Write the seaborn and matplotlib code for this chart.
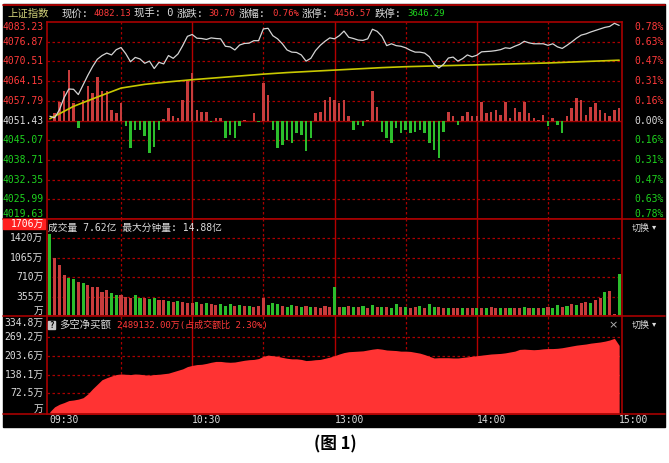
import matplotlib
matplotlib.use("Agg")
import matplotlib.pyplot as plt
from matplotlib.patches import Rectangle
import seaborn as sns

# minute index: 0 = 09:30, 120 = 11:30/13:00, 240 = 15:00 (sampled every 2 min)
minutes = list(range(0, 241, 2))

price = [4052.8, 4052.3, 4054.8, 4058.8, 4061.6, 4061.5, 4059.8, 4062.9, 4066.0, 4068.8,
         4071.2, 4072.4, 4073.2, 4072.6, 4074.3, 4075.0, 4073.0, 4070.4, 4071.8, 4071.3,
         4069.9, 4070.6, 4068.2, 4070.2, 4069.7, 4072.4, 4071.5, 4072.9, 4075.6, 4078.6,
         4079.2, 4078.0, 4077.9, 4077.6, 4078.1, 4077.9, 4077.8, 4075.4, 4075.2, 4074.2,
         4075.8, 4076.3, 4076.4, 4077.2, 4077.2, 4081.0, 4081.2, 4078.8, 4077.8, 4076.2,
         4074.2, 4073.5, 4073.4, 4072.6, 4070.6, 4071.5, 4074.0, 4075.7, 4077.0, 4078.1,
         4077.8, 4078.8, 4080.3, 4078.3, 4077.9, 4077.4, 4077.3, 4077.8, 4080.9, 4080.2,
         4078.6, 4075.6, 4076.2, 4075.6, 4075.4, 4074.9, 4074.1, 4073.5, 4073.5, 4073.2,
         4072.0, 4069.6, 4068.4, 4069.6, 4071.6, 4071.9, 4070.6, 4071.4, 4072.6, 4072.0,
         4072.5, 4073.6, 4073.7, 4073.8, 4074.0, 4074.3, 4074.9, 4074.7, 4075.4, 4076.0,
         4077.0, 4076.5, 4076.2, 4076.2, 4076.2, 4075.7, 4076.2, 4075.2, 4074.7, 4075.7,
         4076.8, 4078.0, 4079.0, 4079.4, 4080.0, 4080.5, 4081.0, 4081.5, 4081.8, 4082.8,
         4082.13]

avg_minutes = list(range(0, 241, 10))
avg_price = [4052.0, 4056.0, 4059.0, 4061.9, 4063.1, 4063.9, 4064.6, 4065.2, 4065.8, 4066.4,
             4066.9, 4067.3, 4067.7, 4068.1, 4068.5, 4068.8, 4069.0, 4069.2, 4069.4, 4069.6,
             4069.8, 4070.0, 4070.3, 4070.6, 4070.9]

# red/green breadth bars, in index points around the previous close
breadth = [0.0, 2.4, 6.1, 9.4, 16.4, 5.6, -2.4, 6.7, 11.0, 8.8,
           14.2, 9.4, 9.4, 3.4, 2.4, 5.6, -1.9, -8.9, -3.0, -3.0,
           -5.0, -10.5, -8.4, -3.0, 0.5, 4.0, 1.3, 0.8, 6.7, 12.6,
           15.3, 3.4, 2.9, 2.9, -0.5, 0.8, 0.8, -5.7, -4.6, -5.7,
           -1.9, 0.3, 0.0, 2.4, -0.4, 12.0, 8.3, -3.0, -8.9, -7.9,
           -6.2, -7.3, -4.1, -4.6, -10.0, -5.7, 2.4, 2.9, 6.7, 7.7,
           6.7, 5.5, 6.7, 1.3, -3.0, -1.4, -1.9, 0.3, 9.4, 4.5,
           -3.6, -5.7, -7.3, -2.5, -4.1, -3.0, -4.1, -3.6, -3.0, -4.1,
           -7.3, -9.5, -12.0, -3.6, 2.9, 1.3, -1.4, 1.3, 2.9, 1.3,
           1.3, 6.1, 2.4, 2.9, 3.4, 1.8, 6.1, 0.8, 4.0, 2.9,
           6.1, 2.4, 0.8, 0.3, 1.8, -1.9, 0.8, -1.4, -4.1, 1.3,
           4.0, 7.2, 6.7, 1.8, 4.5, 5.6, 3.4, 2.4, 1.3, 3.4,
           4.0]

# volume in 万 and direction of each bar (r = up, g = down)
volume = [1490, 1050, 930, 750, 690, 680, 620, 600, 560, 530,
          520, 440, 470, 420, 380, 380, 350, 330, 380, 330,
          320, 310, 320, 300, 290, 280, 260, 270, 250, 240,
          230, 260, 220, 230, 210, 200, 220, 190, 210, 190,
          200, 180, 190, 170, 180, 330, 200, 230, 210, 190,
          170, 200, 180, 170, 190, 160, 170, 150, 180, 160,
          520, 170, 160, 180, 170, 160, 180, 150, 200, 170,
          160, 170, 150, 210, 160, 170, 150, 160, 180, 150,
          210, 170, 160, 150, 140, 150, 140, 150, 140, 150,
          140, 150, 140, 160, 140, 150, 140, 150, 140, 150,
          160, 140, 150, 140, 150, 160, 150, 200, 170, 190,
          210, 200, 230, 250, 240, 300, 320, 430, 455, 30,
          760]
vol_dir = ("grrrggrgrr" "rrrggrrrgg" "rggrrgrgrr" "rgrgrrgggr" "grgrrrgggr" "ggrgrgrrrr"
           "grgrgrgrgr" "grggrgrrgr" "ggrrgrrgrr" "grgrrgrgrr" "grgrgrggrg" "rgrrgrrgrr" "g")

# net long/short buying, 万
money = [8, 25, 34, 40, 47, 49, 52, 57, 70, 88,
         104, 120, 127, 133, 138, 140, 139, 138, 140, 139,
         137, 136, 138, 139, 141, 143, 148, 153, 158, 166,
         170, 173, 174, 177, 181, 184, 184, 182, 181, 182,
         185, 188, 190, 191, 194, 202, 206, 204, 202, 198,
         195, 193, 193, 191, 187, 188, 190, 191, 195, 199,
         204, 210, 215, 218, 219, 220, 221, 224, 227, 229,
         227, 224, 223, 222, 220, 220, 219, 216, 213, 208,
         202, 196, 197, 197, 197, 196, 196, 198, 200, 202,
         204, 206, 208, 210, 211, 212, 214, 217, 220, 226,
         227, 226, 225, 226, 228, 229, 229, 230, 232, 235,
         238, 241, 243, 245, 248, 250, 252, 255, 259, 265,
         240]

pre_close = 4051.43
price_ticks = [4083.23, 4076.87, 4070.51, 4064.15, 4057.79, 4051.43,
               4045.07, 4038.71, 4032.35, 4025.99, 4019.63]
pct_labels = ["0.78%", "0.63%", "0.47%", "0.31%", "0.16%", "0.00%",
              "0.16%", "0.31%", "0.47%", "0.63%", "0.78%"]
vol_ticks = [1420, 1065, 710, 355, 0]
vol_labels = ["1420万", "1065万", "710万", "355万", "万"]
money_ticks = [334.8, 269.2, 203.6, 138.1, 72.5, 0]
money_labels = ["334.8万", "269.2万", "203.6万", "138.1万", "72.5万", "万"]
time_ticks = [0, 60, 120, 180, 240]
time_labels = ["09:30", "10:30", "13:00", "14:00", "15:00"]

RED = "#ff3a3a"
GREEN = "#1ed21e"
WHITE = "#dcdcdc"
FRAME = "#a80000"
BAR_RED = "#c83c3c"
BAR_GREEN = "#2cbe2c"
XLIM = (-1.2, 241.2)

sns.set_style("dark")
plt.rcParams["font.family"] = ["DejaVu Sans Mono", "Noto Sans CJK SC"]
plt.rcParams["font.size"] = 7

W, H = 669, 463
fig = plt.figure(figsize=(W / 100, H / 100), dpi=100, facecolor="white")


def frac(x0, y0, x1, y1):
    return [x0 / W, 1 - y1 / H, (x1 - x0) / W, (y1 - y0) / H]


def pixel_axes(z):
    a = fig.add_axes([0, 0, 1, 1], zorder=z)
    a.set_xlim(0, W)
    a.set_ylim(H, 0)
    a.axis("off")
    a.patch.set_alpha(0)
    return a


bg = pixel_axes(-1)
bg.add_patch(Rectangle((3, 4), 662, 423, color="black", zorder=0))
bg.plot([3, 665], [4.5, 4.5], color="#c00000", lw=1.2)
for yy in (219, 316, 414):
    bg.plot([3, 665], [yy, yy], color=FRAME, lw=1.2)


def panel(rect, ylim, hlevels):
    ax = fig.add_axes(rect)
    ax.set_facecolor("black")
    ax.set_xlim(*XLIM)
    ax.set_ylim(*ylim)
    ax.set_xticks([])
    ax.set_yticks([])
    ax.grid(False)
    for s in ax.spines.values():
        s.set_color(FRAME)
        s.set_linewidth(1.2)
    for v in hlevels:
        ax.axhline(v, color=FRAME, lw=0.9, ls=(0, (2, 2)), zorder=1)
    for m in (30, 90, 150, 210):
        ax.axvline(m, color=FRAME, lw=0.9, ls=(0, (2, 2)), zorder=1)
    for m in (60, 120, 180):
        ax.axvline(m, color="#b40000", lw=1.0, zorder=1)
    return ax


# price panel
ax_p = panel(frac(47, 22, 622, 219), (4019.63, 4083.23),
             [t for t in price_ticks[1:-1] if t != pre_close])
ax_p.axhline(pre_close, color="#a00000", lw=1.0, zorder=1)
ax_p.bar(minutes, [abs(b) for b in breadth],
         bottom=[pre_close if b >= 0 else pre_close + b for b in breadth],
         width=1.05, color=[BAR_RED if b >= 0 else BAR_GREEN for b in breadth],
         edgecolor="none", linewidth=0, zorder=2)
sns.lineplot(x=avg_minutes, y=avg_price, ax=ax_p, color="#c8c800", lw=1.2, zorder=3)
sns.lineplot(x=minutes, y=price, ax=ax_p, color="#d4d4d4", lw=0.9, zorder=4)
ax_p.set_xlabel("")
ax_p.set_ylabel("")
ax_p.set_xlim(*XLIM)
ax_p.set_ylim(4019.63, 4083.23)
tr = ax_p.get_yaxis_transform()
for i, (v, lab) in enumerate(zip(price_ticks, pct_labels)):
    col = RED if v > pre_close else (WHITE if v == pre_close else GREEN)
    va = "top" if i == 0 else ("bottom" if i == len(price_ticks) - 1 else "center")
    ax_p.text(-0.006, v, f"{v:.2f}", transform=tr, ha="right", va=va, color=col)
    ax_p.text(1.073, v, lab, transform=tr, ha="right", va=va, color=col)

# volume panel
ax_v = panel(frac(47, 219, 622, 316), (0, 1767), vol_ticks[:-1])
ax_v.bar(minutes, volume, width=1.3,
         color=[BAR_RED if d == "r" else BAR_GREEN for d in vol_dir],
         edgecolor="none", linewidth=0, zorder=2)
tr = ax_v.get_yaxis_transform()
for v, lab in zip(vol_ticks, vol_labels):
    ax_v.text(-0.006, v, lab, transform=tr, ha="right",
              va="bottom" if v == 0 else "center", color=WHITE)

# money flow panel
ax_m = panel(frac(47, 316, 622, 414), (0, 343), money_ticks[1:-1])
ax_m.fill_between(minutes, money, 0, color="#ff3333", lw=0, zorder=2)
tr = ax_m.get_yaxis_transform()
for i, (v, lab) in enumerate(zip(money_ticks, money_labels)):
    va = "top" if i == 0 else ("bottom" if v == 0 else "center")
    ax_m.text(-0.006, v, lab, transform=tr, ha="right", va=va, color=WHITE)
trx = ax_m.get_xaxis_transform()
for m, lab in zip(time_ticks, time_labels):
    ax_m.text(m, -0.06, lab, transform=trx, ha="left", va="center", color=WHITE)

# overlay texts (drawn above the panels)
fg = pixel_axes(10)
fg.add_patch(Rectangle((3, 219), 42, 10, color="#ff2020", zorder=2))
fg.text(44, 224, "1706万", ha="right", va="center", color="white", zorder=3)
fg.text(48, 228, "成交量 7.62亿 最大分钟量: 14.88亿", ha="left", va="center",
        color=WHITE, fontsize=7)
fg.add_patch(Rectangle((48, 321), 7, 8, color="#c8c8c8", zorder=2))
fg.text(51.5, 325, "?", ha="center", va="center", color="black", fontsize=5.5,
        weight="bold", zorder=3)
fg.text(59, 325, "多空净买额", ha="left", va="center", color=WHITE, fontsize=7.5)
fg.text(117, 325, "2489132.00万(占成交额比 2.30%)", ha="left", va="center",
        color=RED, fontsize=6.5)
fg.text(613, 325, "×", ha="center", va="center", color="#b0b0b0", fontsize=8,
        family=["DejaVu Sans"])
for yy in (228, 325):
    fg.text(632, yy, "切换", ha="left", va="center", color=WHITE, fontsize=6.5)
    fg.text(652, yy - 1, "▾", ha="left", va="center", color=WHITE, fontsize=6,
            family=["DejaVu Sans"])

# header row
header = [(7, "上证指数", "#d2d27a", 7.5), (62, "现价:", WHITE, 7.5), (93, "4082.13", RED, 6.5),
          (134, "现手: 0", WHITE, 7.5), (177, "涨跌:", WHITE, 7.5), (208, "30.70", RED, 6.5),
          (239, "涨幅:", WHITE, 7.5), (272, "0.76%", RED, 6.5), (302, "涨停:", WHITE, 7.5),
          (333, "4456.57", RED, 6.5), (375, "跌停:", WHITE, 7.5), (407, "3646.29", GREEN, 6.5)]
for x, s, c, fs in header:
    fg.text(x, 14, s, ha="left", va="center", color=c, fontsize=fs)

fg.text(335, 444, "(图 1)", ha="center", va="center", color="black", fontsize=12,
        weight="bold", family=["Noto Sans CJK SC"])

fig.savefig("out.png", dpi=100, facecolor="white")
